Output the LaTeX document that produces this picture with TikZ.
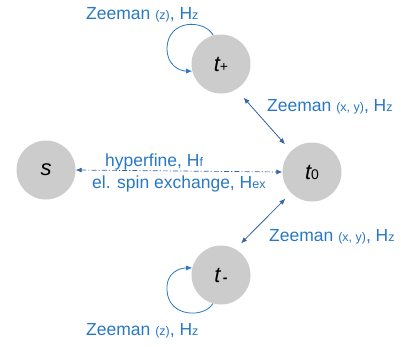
\documentclass[tikz,border=0pt]{standalone}
\usepackage{fontspec}
\setmainfont{Liberation Sans}
\usepackage{tikz}
\usetikzlibrary{arrows.meta}
\definecolor{zblue}{RGB}{40,120,195}
\definecolor{ablue}{RGB}{52,101,164}
\definecolor{sgray}{RGB}{204,204,204}
\newcommand{\bigtxt}{\fontsize{17.5}{20}\selectfont}
\newcommand{\smtxt}[1]{{\fontsize{12.5}{14}\selectfont #1}}
\newcommand{\statelbl}[2]{{\fontsize{22}{24}\selectfont\itshape #1}{\fontsize{14}{15}\selectfont #2}}

\begin{document}
\begin{tikzpicture}[x=1pt,y=-1pt,
		state/.style={circle,fill=sgray,minimum size=59pt,inner sep=0pt},
		lbl/.style={text=zblue,inner sep=0pt,anchor=base west,font=\bigtxt},
		link/.style={ablue,line width=0.8pt,{Latex[length=6pt,width=5pt]}-{Latex[length=6pt,width=5pt]}},
		selfloop/.style={zblue,line width=0.8pt,-{Latex[length=6pt,width=5pt]}}]
		\useasboundingbox (0,0) rectangle (401,346);
		\node[state] (tp) at (221,64) {\statelbl{t}{+}};
		\node[state] (s) at (46,170) {\statelbl{s}{}};
		\node[state] (t0) at (312,172) {\statelbl{t}{0}};
		\node[state] (tm) at (221,275) {\statelbl{t}{\,\textbf{-}}};
		\node[lbl] (ztop) at (86,19) {Zeeman \smtxt{(z)}, H\smtxt{z}};
		\node[lbl] (zbot) at (86,335) {Zeeman \smtxt{(z)}, H\smtxt{z}};
		\node[lbl] (zup) at (267,111.5) {Zeeman \smtxt{(x, y)}, H\smtxt{z}};
		\node[lbl] (zdown) at (269,241.5) {Zeeman \smtxt{(x, y)}, H\smtxt{z}};
		\node[lbl] (hf) at (105,166) {hyperfine, H\smtxt{f}};
		\node[lbl] (ex) at (92,188) {el. spin exchange, H\smtxt{ex}};
		% couplings
		\draw[link,shorten <=11pt,shorten >=9pt] (tp.-59) -- (t0.135);
		\draw[link,shorten <=8pt,shorten >=8pt] (t0.225) -- (tm.61);
		\draw[link,line width=0.7pt,dash pattern=on 5pt off 2pt on 1.2pt off 2pt] (s.east) -- (t0.west);
		% self loops
		\draw[selfloop] (tp.105) .. controls (204,19) and (168,19) .. (167,48)
			.. controls (167,66) and (180,71) .. (tp.194);
		\draw[selfloop] (tm.254) .. controls (205,318) and (168,318) .. (167,290)
			.. controls (166,272) and (180,268) .. (tm.166);
	\end{tikzpicture}
\end{document}
